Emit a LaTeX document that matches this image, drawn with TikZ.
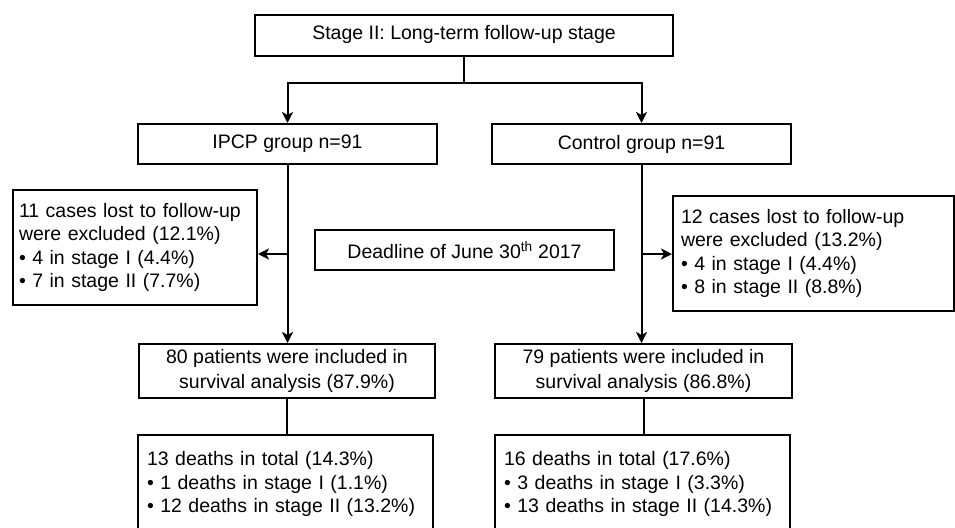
\documentclass[tikz,border=0pt]{standalone}
\usepackage{fontspec}
\setmainfont{Liberation Sans}
\usetikzlibrary{arrows.meta,calc}
\begin{document}
\begin{tikzpicture}[x=1pt,y=-1pt,
  box/.style={draw, line width=2pt, inner xsep=0pt, inner ysep=0pt, anchor=north west,
     font=\fontsize{19.5}{23.6}\selectfont},
  listbox/.style={box, align=left},
  conn/.style={line width=2pt},
  arr/.style={conn, -{Stealth[length=11pt,width=11pt,inset=3pt]}}]
\useasboundingbox (0,0) rectangle (955,527);
\clip (0,0) rectangle (955,527);
\node[box, minimum width=418, minimum height=41, text depth=7pt] (top) at (254,14) {Stage II: Long-term follow-up stage};
\node[box, minimum width=299, minimum height=40] (ipcp) at (137,123) {IPCP group n=91};
\node[box, minimum width=299, minimum height=40] (ctrl) at (491,123) {Control group n=91};
\node[listbox, text width=232, inner xsep=6, minimum height=115] (exclL) at (12,189)
  {11 cases lost to follow-up\\were excluded (12.1\%)\\• 4 in stage I (4.4\%)\\• 7 in stage II (7.7\%)};
\node[box, minimum width=299, minimum height=40] (dead) at (314,229) {Deadline of June 30\textsuperscript{th} 2017};
\node[listbox, text width=265, inner xsep=8, minimum height=115] (exclR) at (672,195)
  {12 cases lost to follow-up\\were excluded (13.2\%)\\• 4 in stage I (4.4\%)\\• 8 in stage II (8.8\%)};
\node[box, align=center, minimum width=296, minimum height=54, font=\fontsize{19.5}{25}\selectfont] (inclL) at (138,343)
  {80 patients were included in\\survival analysis (87.9\%)};
\node[box, align=center, minimum width=297, minimum height=54, font=\fontsize{19.5}{25}\selectfont] (inclR) at (494,343)
  {79 patients were included in\\survival analysis (86.8\%)};
\node[listbox, text width=277, inner xsep=9, inner ysep=0, text depth=90pt, minimum height=130] (deathL) at (137,434)
  {\rule{0pt}{21pt}13 deaths in total (14.3\%)\\• 1 deaths in stage I (1.1\%)\\• 12 deaths in stage II (13.2\%)};
\node[listbox, text width=277, inner xsep=9, inner ysep=0, text depth=90pt, minimum height=130] (deathR) at (494,434)
  {\rule{0pt}{21pt}16 deaths in total (17.6\%)\\• 3 deaths in stage I (3.3\%)\\• 13 deaths in stage II (14.3\%)};
\coordinate (sp) at ($(top.south)+(0,26)$);
\draw[conn] (top.south) -- (sp);
\draw[arr] (sp) -| (ipcp.north);
\draw[arr] (sp) -| (ctrl.north);
\draw[arr] (ipcp.south) -- (ipcp.south |- inclL.north);
\draw[arr] (ctrl.south) -- (ctrl.south |- inclR.north);
\coordinate (bL) at (ipcp.south |- 0,254);
\coordinate (bR) at (ctrl.south |- 0,254);
\draw[arr] (bL) -- (bL -| exclL.east);
\draw[arr] (bR) -- (bR -| exclR.west);
\draw[conn] (inclL.south) -- (inclL.south |- deathL.north);
\draw[conn] (inclR.south) -- (inclR.south |- deathR.north);
\end{tikzpicture}
\end{document}
